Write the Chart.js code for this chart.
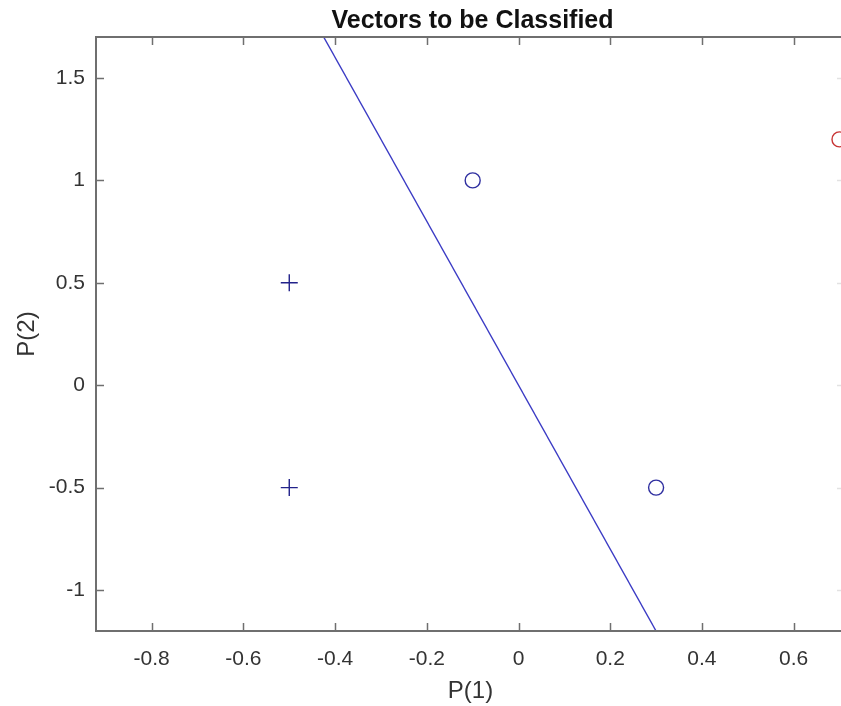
<!DOCTYPE html>
<html>
<head>
<meta charset="utf-8">
<script src="https://cdn.jsdelivr.net/npm/chart.js@4/dist/chart.umd.min.js"></script>
<style>
  html, body { margin: 0; padding: 0; background: #fff; }
  #wrap { width: 841px; height: 706px; overflow: hidden; position: relative; }
  canvas { display: block; }
</style>
</head>
<body>
<div id="wrap"><canvas id="perceptronChart" width="860" height="706"></canvas></div>
<script>
// input vectors, class 0 (plus) and class 1 (circle)
const plusX = [-0.5, -0.5];
const plusY = [-0.5, 0.5];
const circleX = [-0.1, 0.3];
const circleY = [1.0, -0.5];

// vector to be classified
const newX = [0.7];
const newY = [1.2];

// decision boundary end points
const lineX = [-0.425, 0.3];
const lineY = [1.7, -1.2];

const xTickValues = [-0.8, -0.6, -0.4, -0.2, 0, 0.2, 0.4, 0.6];
const yTickValues = [-1, -0.5, 0, 0.5, 1, 1.5];

const titleText = "Vectors to be Classified";
const xLabel = "P(1)";
const yLabel = "P(2)";

const FONT = "'Liberation Sans', Arial, Helvetica, sans-serif";
const AXIS_COLOR = "#6f6f6f";
const TEXT_COLOR = "#333333";

function toPoints(xs, ys) {
  return xs.map((x, i) => ({ x, y: ys[i] }));
}

// MATLAB style box: inward ticks on all four sides + title above the axes
const boxPlugin = {
  id: "matlabBox",
  afterDraw(chart) {
    const { ctx, chartArea: a, scales } = chart;
    const tick = 8;
    ctx.save();
    ctx.strokeStyle = AXIS_COLOR;
    ctx.lineWidth = 2;
    ctx.strokeRect(a.left, a.top, a.right - a.left, a.bottom - a.top);

    ctx.lineWidth = 1.5;
    ctx.beginPath();
    xTickValues.forEach((v) => {
      const px = Math.round(scales.x.getPixelForValue(v)) + 0.5;
      ctx.moveTo(px, a.bottom);
      ctx.lineTo(px, a.bottom - tick);
      ctx.moveTo(px, a.top);
      ctx.lineTo(px, a.top + tick);
    });
    yTickValues.forEach((v) => {
      const py = Math.round(scales.y.getPixelForValue(v)) + 0.5;
      ctx.moveTo(a.left, py);
      ctx.lineTo(a.left + tick, py);
    });
    ctx.stroke();

    // right side ticks come out very faint in the picture
    ctx.strokeStyle = "#e2e2e2";
    ctx.beginPath();
    yTickValues.forEach((v) => {
      const py = Math.round(scales.y.getPixelForValue(v)) + 0.5;
      ctx.moveTo(a.right, py);
      ctx.lineTo(a.right - tick, py);
    });
    ctx.stroke();

    ctx.fillStyle = "#111";
    ctx.font = `bold 25px ${FONT}`;
    ctx.textAlign = "center";
    ctx.textBaseline = "alphabetic";
    ctx.fillText(titleText, (a.left + a.right) / 2 + 2, 28);
    ctx.restore();
  },
};

const canvas = document.getElementById("perceptronChart");

new Chart(canvas, {
  type: "scatter",
  data: {
    datasets: [
      {
        label: "boundary",
        type: "line",
        data: toPoints(lineX, lineY),
        borderColor: "#3a3ac4",
        borderWidth: 1.4,
        pointRadius: 0,
        fill: false,
        tension: 0,
      },
      {
        label: "class 0",
        data: toPoints(plusX, plusY),
        pointStyle: "cross",
        pointRadius: 8.5,
        borderColor: "#22228a",
        borderWidth: 1.4,
      },
      {
        label: "class 1",
        data: toPoints(circleX, circleY),
        pointStyle: "circle",
        pointRadius: 7.5,
        borderColor: "#2f2fa0",
        backgroundColor: "rgba(0,0,0,0)",
        borderWidth: 1.4,
      },
      {
        label: "new",
        data: toPoints(newX, newY),
        pointStyle: "circle",
        pointRadius: 7.5,
        borderColor: "#c83434",
        backgroundColor: "rgba(0,0,0,0)",
        borderWidth: 1.4,
      },
    ],
  },
  options: {
    responsive: false,
    animation: false,
    devicePixelRatio: 1,
    layout: { padding: { left: 0, top: 37, right: 15, bottom: 0 } },
    plugins: {
      legend: { display: false },
      title: { display: false },
      tooltip: { enabled: false },
    },
    scales: {
      x: {
        type: "linear",
        min: -0.9215,
        max: 0.712,
        afterFit: (s) => { s.height = 75; },
        afterBuildTicks: (s) => { s.ticks = xTickValues.map((v) => ({ value: v })); },
        grid: { display: false, drawTicks: false },
        border: { display: false },
        ticks: {
          padding: 16,
          color: TEXT_COLOR,
          font: { family: FONT, size: 21 },
          callback: (v) => String(Math.round(v * 10) / 10),
        },
        title: {
          display: true,
          text: xLabel,
          color: TEXT_COLOR,
          font: { family: FONT, size: 24 },
          padding: { top: 6, bottom: 0 },
        },
      },
      y: {
        type: "linear",
        min: -1.2,
        max: 1.7,
        afterFit: (s) => { s.width = 96; },
        afterBuildTicks: (s) => { s.ticks = yTickValues.map((v) => ({ value: v })); },
        grid: { display: false, drawTicks: false },
        border: { display: false },
        ticks: {
          padding: 11,
          color: TEXT_COLOR,
          font: { family: FONT, size: 21 },
          callback: (v) => String(Math.round(v * 10) / 10),
        },
        title: {
          display: true,
          text: yLabel,
          color: TEXT_COLOR,
          font: { family: FONT, size: 24 },
          padding: { top: 13, bottom: 0 },
        },
      },
    },
  },
  plugins: [boxPlugin],
});
</script>
</body>
</html>
